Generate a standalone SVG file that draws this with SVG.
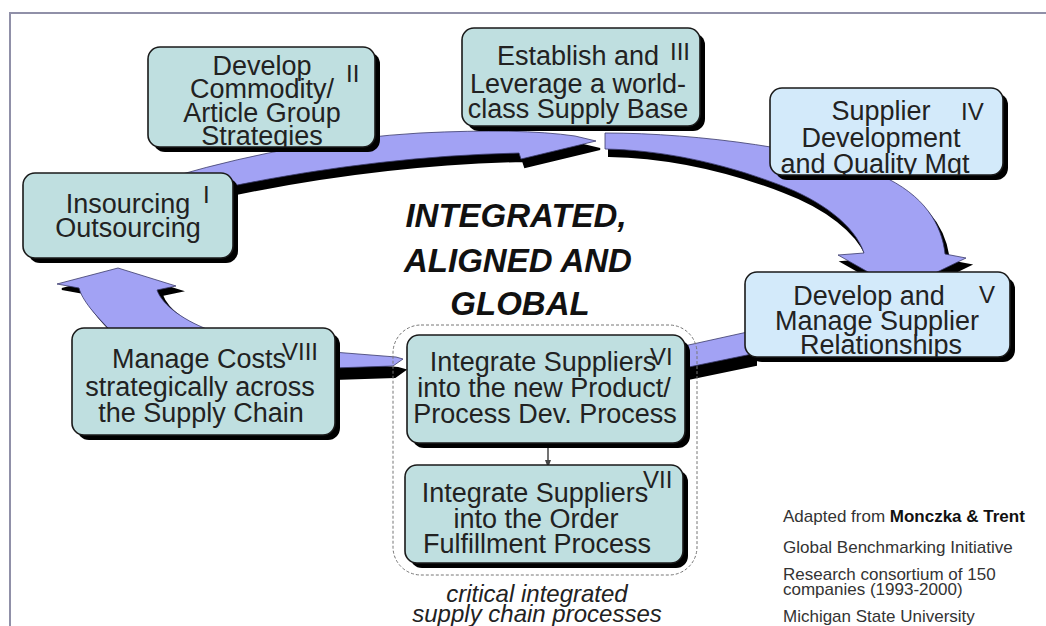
<svg xmlns="http://www.w3.org/2000/svg" width="1046" height="626" viewBox="0 0 1046 626">
<defs>
<style>
.box{stroke:#1a1a1a;stroke-width:1.6}
.teal{fill:#bfdfe0}
.blue{fill:#d3eafa}
.shd{fill:#000}
.t{font-family:"Liberation Sans",Arial,sans-serif;font-size:27px;fill:#222;text-anchor:middle}
.n{font-family:"Liberation Sans",Arial,sans-serif;font-size:24px;fill:#222}
.arw{fill:#a2a2f4;stroke:#3a3a6a;stroke-width:0.8}
.arws{fill:#000;stroke:#000;stroke-width:2}
.ctr{font-family:"Liberation Sans",Arial,sans-serif;font-size:33px;font-weight:bold;font-style:italic;fill:#111;text-anchor:middle}
.cap{font-family:"Liberation Sans",Arial,sans-serif;font-size:24px;font-style:italic;fill:#222;text-anchor:middle}
.fn{font-family:"Liberation Sans",Arial,sans-serif;font-size:17px;fill:#333}
</style>
<marker id="ah" markerWidth="8" markerHeight="8" refX="4" refY="4" orient="auto" markerUnits="userSpaceOnUse"><path d="M0,1 L8,4 L0,7 Z" fill="#444"/></marker>
<clipPath id="c2"><rect x="148" y="47" width="227" height="100" rx="12"/></clipPath>
<clipPath id="c4"><rect x="770" y="88" width="233" height="87" rx="12"/></clipPath>
<clipPath id="c5"><rect x="745" y="272" width="265" height="85" rx="12"/></clipPath>
</defs>
<rect width="1046" height="626" fill="#fff"/>
<path d="M10,626 V13 H1046" stroke="#9090a8" stroke-width="2" fill="none"/>

<g id="connectors">
  <path class="arws" transform="translate(4,8)" d="M175,176 Q300,140 420,133 Q520,128 575,136 L596,141 L521,159 L519,153 Q380,156 232,186 Z"/>
  <path class="arw" d="M175,176 Q300,140 420,133 Q520,128 575,136 L596,141 L521,159 L519,153 Q380,156 232,186 Z"/>
  <path class="arws" transform="translate(4,7)" d="M605,133 C700,133 820,150 880,175 C925,195 942,225 945,254 L966,258 L900,290 L838,255 L864,253 C855,225 820,200 780,185 C720,162 660,150 605,149 Z"/>
  <path class="arw" d="M605,133 C700,133 820,150 880,175 C925,195 942,225 945,254 L966,258 L900,290 L838,255 L864,253 C855,225 820,200 780,185 C720,162 660,150 605,149 Z"/>
  <path class="arws" transform="translate(4,11)" d="M684,346 L752,331 L752,354 L684,368 Z"/>
  <path class="arw" d="M684,346 L752,331 L752,354 L684,368 Z"/>
  <path class="arws" transform="translate(2,11)" d="M333,352 L396,357 L403,359 L393,366 L333,368 Z"/>
  <path class="arw" d="M333,352 L396,357 L403,359 L393,366 L333,368 Z"/>
  <path class="arws" transform="translate(5,5)" d="M112,332 C95,315 82,300 79,288 L57,284 L118,268 L176,286 L157,290 C162,305 185,322 215,332 Z"/>
  <path class="arw" d="M112,332 C95,315 82,300 79,288 L57,284 L118,268 L176,286 L157,290 C162,305 185,322 215,332 Z"/>
  <line x1="548" y1="448" x2="548" y2="464" stroke="#444" stroke-width="1.5" marker-end="url(#ah)"/>
</g>

<rect id="group" x="393" y="325" width="304" height="250" rx="28" fill="none" stroke="#777" stroke-width="1" stroke-dasharray="3,2"/>

<g id="n1">
  <rect class="shd" x="28" y="178" width="210" height="85" rx="12"/>
  <rect class="box teal" x="23" y="173" width="210" height="85" rx="12"/>
  <text class="t" x="128" y="213">Insourcing</text>
  <text class="t" x="128" y="237">Outsourcing</text>
  <text class="n" x="203" y="203">I</text>
</g>
<g id="n2">
  <rect class="shd" x="153" y="52" width="227" height="100" rx="12"/>
  <rect class="box teal" x="148" y="47" width="227" height="100" rx="12"/>
  <g clip-path="url(#c2)">
    <text class="t" x="262" y="75">Develop</text>
    <text class="t" x="262" y="98">Commodity/</text>
    <text class="t" x="262" y="122">Article Group</text>
    <text class="t" x="262" y="145">Strategies</text>
  </g>
  <text class="n" x="346" y="82">II</text>
</g>
<g id="n3">
  <rect class="shd" x="467" y="33" width="238" height="98" rx="12"/>
  <rect class="box teal" x="462" y="28" width="238" height="98" rx="12"/>
  <text class="t" x="578" y="65">Establish and</text>
  <text class="t" x="578" y="93">Leverage a world-</text>
  <text class="t" x="578" y="118">class Supply Base</text>
  <text class="n" x="670" y="60">III</text>
</g>
<g id="n4">
  <rect class="shd" x="775" y="93" width="233" height="87" rx="12"/>
  <rect class="box blue" x="770" y="88" width="233" height="87" rx="12"/>
  <g clip-path="url(#c4)">
    <text class="t" x="881" y="120">Supplier</text>
    <text class="t" x="881" y="147">Development</text>
    <text class="t" x="875" y="173">and Quality Mgt</text>
  </g>
  <text class="n" x="961" y="120">IV</text>
</g>
<g id="n5">
  <rect class="shd" x="750" y="277" width="265" height="85" rx="12"/>
  <rect class="box blue" x="745" y="272" width="265" height="85" rx="12"/>
  <g clip-path="url(#c5)">
    <text class="t" x="869" y="305">Develop and</text>
    <text class="t" x="877" y="330">Manage Supplier</text>
    <text class="t" x="881" y="354">Relationships</text>
  </g>
  <text class="n" x="979" y="303">V</text>
</g>
<g id="n8">
  <rect class="shd" x="77" y="333" width="263" height="107" rx="12"/>
  <rect class="box teal" x="72" y="328" width="263" height="107" rx="12"/>
  <text class="t" x="199" y="368">Manage Costs</text>
  <text class="t" x="200" y="396">strategically across</text>
  <text class="t" x="201" y="422">the Supply Chain</text>
  <text class="n" x="282" y="360">VIII</text>
</g>
<g id="n6">
  <rect class="shd" x="412" y="340" width="278" height="108" rx="12"/>
  <rect class="box teal" x="407" y="335" width="278" height="108" rx="12"/>
  <text class="t" x="543" y="371">Integrate Suppliers</text>
  <text class="t" x="544" y="397">into the new Product/</text>
  <text class="t" x="545" y="423">Process Dev. Process</text>
  <text class="n" x="650" y="365">VI</text>
</g>
<g id="n7">
  <rect class="shd" x="410" y="470" width="278" height="98" rx="12"/>
  <rect class="box teal" x="405" y="465" width="278" height="98" rx="12"/>
  <text class="t" x="535" y="502">Integrate Suppliers</text>
  <text class="t" x="536" y="528">into the Order</text>
  <text class="t" x="537" y="553">Fulfillment Process</text>
  <text class="n" x="643" y="488">VII</text>
</g>

<g id="center">
  <text class="ctr" x="516" y="227">INTEGRATED,</text>
  <text class="ctr" x="518" y="272">ALIGNED AND</text>
  <text class="ctr" x="520" y="315">GLOBAL</text>
</g>
<g id="caption">
  <text class="cap" x="537" y="602">critical integrated</text>
  <text class="cap" x="537" y="622">supply chain processes</text>
</g>
<g id="footnote">
  <text class="fn" x="783" y="522">Adapted from <tspan font-weight="bold" fill="#111">Monczka &amp; Trent</tspan></text>
  <text class="fn" x="783" y="553">Global Benchmarking Initiative</text>
  <text class="fn" x="783" y="580">Research consortium of 150</text>
  <text class="fn" x="783" y="595">companies (1993-2000)</text>
  <text class="fn" x="783" y="622">Michigan State University</text>
</g>
</svg>
